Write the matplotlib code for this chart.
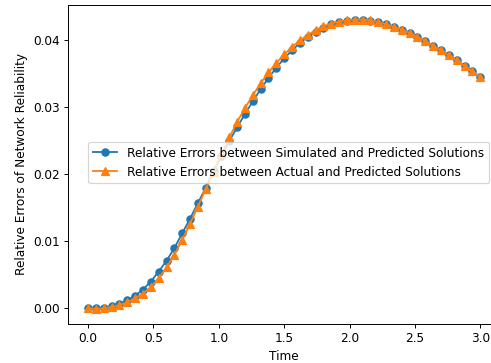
import numpy as np
import matplotlib
matplotlib.use('Agg')
from matplotlib import pyplot as plt

# time grid: 0..3 in steps of 0.06 (51 points)
time = [round(0.06 * i, 2) for i in range(51)]

sim_vs_pred = [0.0000, 0.0000, 0.0001, 0.0003, 0.0007, 0.0012, 0.0019, 0.0028, 0.0040, 0.0055,
               0.0071, 0.0090, 0.0112, 0.0134, 0.0157, 0.0180, 0.0205, 0.0228, 0.0250, 0.0270,
               0.0290, 0.0309, 0.0327, 0.0344, 0.0359, 0.0373, 0.0385, 0.0396, 0.0405, 0.0413,
               0.0419, 0.0424, 0.0427, 0.0429, 0.0430, 0.0430, 0.0429, 0.0427, 0.0424, 0.0420,
               0.0416, 0.0411, 0.0405, 0.0399, 0.0392, 0.0385, 0.0378, 0.0370, 0.0362, 0.0354,
               0.0345]

act_vs_pred = [0.0000, -0.0001, 0.0000, 0.0002, 0.0005, 0.0009, 0.0015, 0.0022, 0.0032, 0.0045,
               0.0061, 0.0080, 0.0102, 0.0126, 0.0152, 0.0178, 0.0204, 0.0230, 0.0255, 0.0278,
               0.0299, 0.0318, 0.0336, 0.0352, 0.0366, 0.0379, 0.0390, 0.0400, 0.0408, 0.0415,
               0.0421, 0.0425, 0.0428, 0.0430, 0.0431, 0.0431, 0.0430, 0.0427, 0.0424, 0.0420,
               0.0416, 0.0411, 0.0405, 0.0399, 0.0392, 0.0385, 0.0378, 0.0370, 0.0362, 0.0354,
               0.0345]

dpi = 87
fig, ax = plt.subplots(figsize=(491 / dpi, 363 / dpi), dpi=dpi)
# the original was cropped on the right, so the axes run past the edge
fig.subplots_adjust(left=0.1395, right=1.018, top=0.986, bottom=0.1088)

ax.plot(time, sim_vs_pred, marker='o', label="Relative Errors between Simulated and Predicted Solutions")
ax.plot(time, act_vs_pred, marker='^', label="Relative Errors between Actual and Predicted Solutions")

ax.set_xlabel("Time")
ax.set_ylabel("Relative Errors of Network Reliability")
ax.set_xticks([0.0, 0.5, 1.0, 1.5, 2.0, 2.5, 3.0])
ax.set_yticks([0.0, 0.01, 0.02, 0.03, 0.04])
ax.legend(loc='center right', bbox_to_anchor=(489 / 491, 0.552),
          bbox_transform=fig.transFigure, borderaxespad=0)

fig.savefig("out.png", dpi=dpi)
